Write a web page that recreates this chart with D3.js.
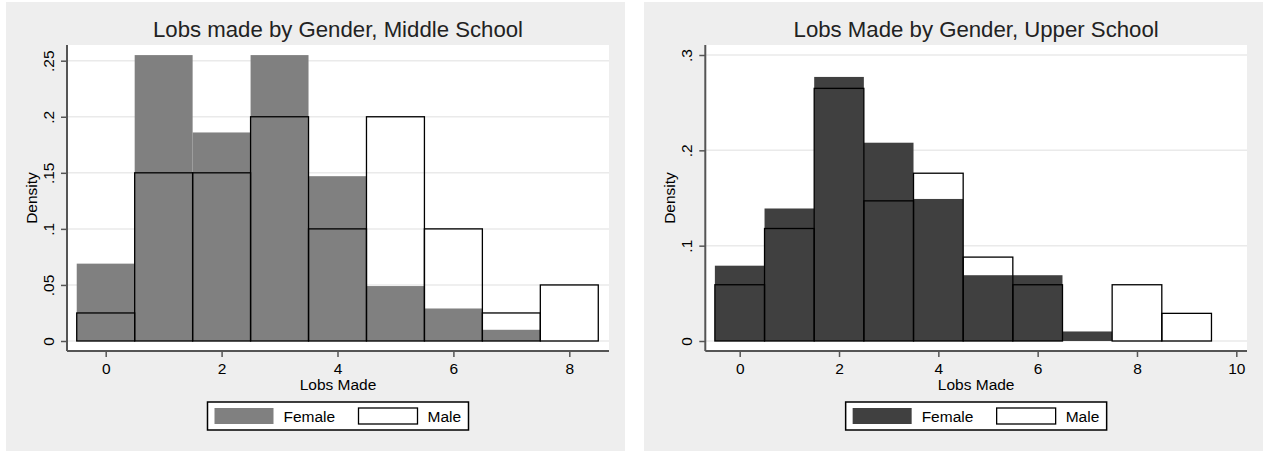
<!DOCTYPE html>
<html>
<head>
<meta charset="utf-8">
<script src="https://cdn.jsdelivr.net/npm/d3@7"></script>
<style>
  body { margin: 0; background: #fff; }
  text { font-family: "Liberation Sans", Arial, sans-serif; }
</style>
</head>
<body>
<div id="chart"></div>
<script>
// histogram bins (lobs made)
var msBins = [0, 1, 2, 3, 4, 5, 6, 7, 8];
var usBins = [0, 1, 2, 3, 4, 5, 6, 7, 8, 9];

// densities, middle school
var msFemale = [0.069, 0.255, 0.186, 0.255, 0.147, 0.049, 0.029, 0.010, 0];
var msMale   = [0.025, 0.150, 0.150, 0.200, 0.100, 0.200, 0.100, 0.025, 0.050];

// densities, upper school
var usFemale = [0.079, 0.139, 0.277, 0.208, 0.149, 0.069, 0.069, 0.010, 0, 0];
var usMale   = [0.059, 0.118, 0.265, 0.147, 0.176, 0.088, 0.059, 0, 0.059, 0.029];

// ticks
var msXTicks = [0, 2, 4, 6, 8];
var usXTicks = [0, 2, 4, 6, 8, 10];
var msYTicks = [0, 0.05, 0.1, 0.15, 0.2, 0.25];
var msYLabels = ["0", ".05", ".1", ".15", ".2", ".25"];
var usYTicks = [0, 0.1, 0.2, 0.3];
var usYLabels = ["0", ".1", ".2", ".3"];

var legendLabels = ["Female", "Male"];

var svg = d3.select("#chart")
  .append("svg")
    .attr("width", 1263)
    .attr("height", 451);

var panels = [
  {
    title: "Lobs made by Gender, Middle School",
    bins: msBins, female: msFemale, male: msMale,
    xTicks: msXTicks, yTicks: msYTicks, yLabels: msYLabels,
    femaleColor: "#808080",
    bg: {x: 6, y: 2, w: 619, h: 449},
    plot: {left: 67, right: 609, top: 45, base: 351},
    x: d3.scaleLinear().domain([0, 8]).range([105.7, 569.3]),
    y: d3.scaleLinear().domain([0, 0.25]).range([341, 60.7])
  },
  {
    title: "Lobs Made by Gender, Upper School",
    bins: usBins, female: usFemale, male: usMale,
    xTicks: usXTicks, yTicks: usYTicks, yLabels: usYLabels,
    femaleColor: "#404040",
    bg: {x: 644, y: 2, w: 619, h: 449},
    plot: {left: 705.3, right: 1247, top: 45, base: 351},
    x: d3.scaleLinear().domain([0, 10]).range([739.7, 1236.3]),
    y: d3.scaleLinear().domain([0, 0.3]).range([341, 55])
  }
];

panels.forEach(function(p) {
  var g = svg.append("g");
  var x = p.x, y = p.y, pl = p.plot;
  var cx = (pl.left + pl.right) / 2;

  // panel background
  g.append("rect")
    .attr("x", p.bg.x).attr("y", p.bg.y)
    .attr("width", p.bg.w).attr("height", p.bg.h)
    .attr("fill", "#eeeeee");

  // plot region
  g.append("rect")
    .attr("x", pl.left).attr("y", pl.top)
    .attr("width", pl.right - pl.left).attr("height", pl.base - pl.top)
    .attr("fill", "#ffffff");

  // gridlines
  g.selectAll(".grid")
    .data(p.yTicks)
    .enter()
    .append("line")
    .attr("x1", pl.left).attr("x2", pl.right)
    .attr("y1", function(d) { return y(d); })
    .attr("y2", function(d) { return y(d); })
    .attr("stroke", "#eaeaea")
    .attr("stroke-width", 1.5);

  // female bars
  g.selectAll(".fem")
    .data(p.bins)
    .enter()
    .append("rect")
    .attr("x", function(d) { return x(d - 0.5); })
    .attr("width", function(d) { return x(d + 0.5) - x(d - 0.5); })
    .attr("y", function(d, i) { return y(p.female[i]); })
    .attr("height", function(d, i) { return y(0) - y(p.female[i]); })
    .attr("fill", p.femaleColor);

  // male bars (outline only)
  g.selectAll(".male")
    .data(p.bins.filter(function(d, i) { return p.male[i] > 0; }))
    .enter()
    .append("rect")
    .attr("x", function(d) { return x(d - 0.5); })
    .attr("width", function(d) { return x(d + 0.5) - x(d - 0.5); })
    .attr("y", function(d) { return y(p.male[p.bins.indexOf(d)]); })
    .attr("height", function(d) { return y(0) - y(p.male[p.bins.indexOf(d)]); })
    .attr("fill", "none")
    .attr("stroke", "#000")
    .attr("stroke-width", 1.3);

  // x axis
  var xAxis = g.append("g")
    .attr("transform", "translate(0," + pl.base + ")")
    .call(d3.axisBottom(x).tickValues(p.xTicks).tickSize(6).tickPadding(6).tickSizeOuter(0));
  xAxis.select(".domain").remove();
  xAxis.append("line")
    .attr("x1", pl.left).attr("x2", pl.right)
    .attr("stroke", "#555").attr("stroke-width", 2);
  xAxis.selectAll(".tick line").attr("stroke", "#555").attr("stroke-width", 1.5);
  xAxis.selectAll(".tick text")
    .attr("fill", "#000")
    .style("font-size", "15.5px")
    .style("font-family", "Liberation Sans, Arial, sans-serif");

  // y axis
  var yAxis = g.append("g")
    .attr("transform", "translate(" + pl.left + ",0)")
    .call(d3.axisLeft(y).tickValues(p.yTicks)
      .tickFormat(function(d, i) { return p.yLabels[i]; })
      .tickSize(6).tickSizeOuter(0));
  yAxis.select(".domain").remove();
  yAxis.append("line")
    .attr("y1", pl.top).attr("y2", pl.base)
    .attr("stroke", "#555").attr("stroke-width", 2);
  yAxis.selectAll(".tick line").attr("stroke", "#555").attr("stroke-width", 1.5);
  yAxis.selectAll(".tick text")
    .attr("x", null).attr("dy", null)
    .attr("transform", "translate(-13.5,0) rotate(-90)")
    .attr("text-anchor", "middle")
    .attr("fill", "#000")
    .style("font-size", "15.5px")
    .style("font-family", "Liberation Sans, Arial, sans-serif");

  // title
  g.append("text")
    .attr("x", cx).attr("y", 37)
    .attr("text-anchor", "middle")
    .attr("fill", "#222")
    .style("font-size", "22.2px")
    .text(p.title);

  // axis titles
  g.append("text")
    .attr("x", cx).attr("y", 390)
    .attr("text-anchor", "middle")
    .attr("fill", "#000")
    .style("font-size", "15.5px")
    .text("Lobs Made");

  g.append("text")
    .attr("transform", "translate(" + (pl.left - 30) + ",198) rotate(-90)")
    .attr("text-anchor", "middle")
    .attr("fill", "#000")
    .style("font-size", "15.5px")
    .text("Density");

  // legend
  var lg = g.append("g").attr("transform", "translate(" + (cx - 130.5) + ",402)");
  lg.append("rect")
    .attr("width", 261).attr("height", 28)
    .attr("fill", "#fff").attr("stroke", "#000").attr("stroke-width", 1.5);
  lg.append("rect")
    .attr("x", 7).attr("y", 6).attr("width", 59).attr("height", 16)
    .attr("fill", p.femaleColor);
  lg.append("text")
    .attr("x", 76).attr("y", 20)
    .attr("fill", "#000").style("font-size", "15.5px")
    .text(legendLabels[0]);
  lg.append("rect")
    .attr("x", 151).attr("y", 6).attr("width", 59).attr("height", 16)
    .attr("fill", "#fff").attr("stroke", "#000").attr("stroke-width", 1.3);
  lg.append("text")
    .attr("x", 220).attr("y", 20)
    .attr("fill", "#000").style("font-size", "15.5px")
    .text(legendLabels[1]);
});
</script>
</body>
</html>
